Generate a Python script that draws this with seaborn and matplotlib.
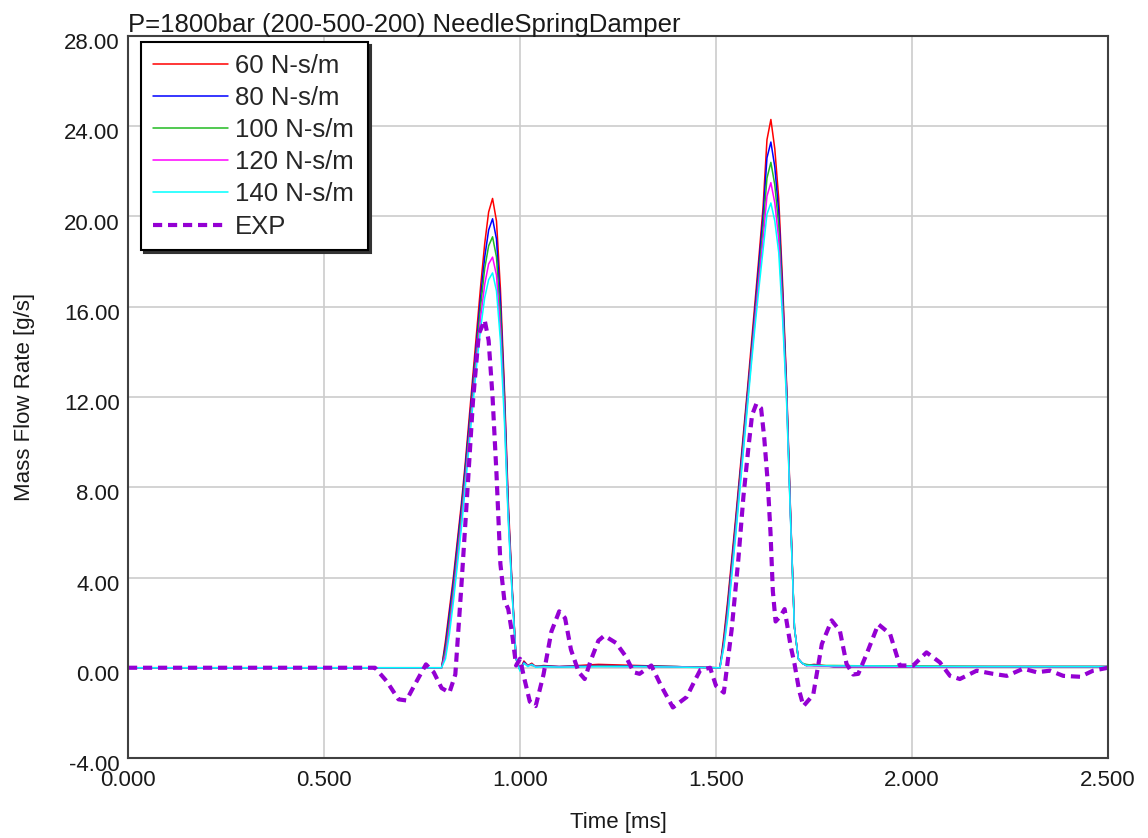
import matplotlib
matplotlib.use("Agg")
import matplotlib.pyplot as plt
import matplotlib.transforms as mtransforms
import numpy as np
import pandas as pd
import seaborn as sns

# ---- data -------------------------------------------------------------
title = "P=1800bar (200-500-200) NeedleSpringDamper"
x_label = "Time [ms]"
y_label = "Mass Flow Rate [g/s]"

x_ticks = [0.0, 0.5, 1.0, 1.5, 2.0, 2.5]
y_ticks = [-4, 0, 4, 8, 12, 16, 20, 24, 28]

# simulation output time base [ms]
t_sim = [0.00, 0.60,
         0.80, 0.81, 0.82, 0.83, 0.84, 0.85, 0.86, 0.87, 0.88, 0.89,
         0.90, 0.91, 0.92, 0.93, 0.94, 0.95, 0.96, 0.97, 0.98, 0.99, 1.00,
         1.01, 1.02, 1.03, 1.04, 1.06, 1.10, 1.20, 1.30, 1.40, 1.50,
         1.51, 1.52, 1.53, 1.54, 1.55, 1.56, 1.57, 1.58, 1.59, 1.60,
         1.61, 1.62, 1.63, 1.64, 1.65, 1.66, 1.67, 1.68, 1.69, 1.70, 1.71, 1.72,
         1.73, 1.75, 1.80, 1.90, 2.00, 2.20, 2.50]

damp_60 = [0.0, 0.0,
           0.0, 1.2, 2.6, 4.0, 5.6, 7.2, 9.0, 11.0, 13.0, 15.0,
           17.0, 18.8, 20.2, 20.8, 19.8, 16.8, 12.5, 7.4, 3.6, 0.4, -0.1,
           0.3, 0.1, 0.2, 0.05, 0.1, 0.05, 0.15, 0.1, 0.05, 0.0,
           0.0, 1.4, 3.0, 4.8, 6.6, 8.5, 10.4, 12.3, 14.3, 16.3,
           18.3, 20.4, 23.4, 24.3, 23.0, 20.8, 17.0, 12.6, 7.0, 1.8, 0.4, 0.2,
           0.1, 0.15, 0.05, 0.05, 0.05, 0.05, 0.05]

damp_80 = [0.0, 0.0,
           0.0, 1.0, 2.4, 3.8, 5.4, 7.0, 8.8, 10.7, 12.7, 14.6,
           16.5, 18.2, 19.4, 19.9, 19.0, 16.2, 12.2, 7.1, 3.5, 0.4, -0.1,
           0.25, 0.1, 0.15, 0.05, 0.08, 0.05, 0.1, 0.08, 0.05, 0.0,
           0.0, 1.2, 2.8, 4.6, 6.4, 8.3, 10.2, 12.1, 14.0, 16.0,
           18.0, 20.0, 22.6, 23.3, 22.2, 20.2, 16.6, 12.4, 6.9, 1.8, 0.4, 0.2,
           0.1, 0.12, 0.05, 0.05, 0.05, 0.05, 0.05]

damp_100 = [0.0, 0.0,
            0.0, 0.8, 2.1, 3.5, 5.1, 6.7, 8.5, 10.4, 12.4, 14.3,
            16.1, 17.7, 18.7, 19.1, 18.2, 15.6, 11.8, 6.9, 3.4, 0.4, -0.1,
            0.2, 0.12, 0.1, 0.08, 0.06, 0.05, 0.08, 0.06, 0.05, 0.0,
            0.0, 1.1, 2.6, 4.4, 6.2, 8.1, 10.0, 11.9, 13.8, 15.7,
            17.6, 19.5, 21.7, 22.4, 21.4, 19.6, 16.2, 12.2, 6.8, 1.8, 0.4, 0.2,
            0.15, 0.1, 0.1, 0.08, 0.08, 0.06, 0.06]

damp_120 = [0.0, 0.0,
            0.0, 0.6, 1.8, 3.2, 4.8, 6.4, 8.2, 10.1, 12.0, 13.9,
            15.6, 17.0, 17.9, 18.2, 17.4, 15.0, 11.4, 6.7, 3.3, 0.4, -0.1,
            0.2, 0.1, 0.12, 0.06, 0.05, 0.05, 0.06, 0.05, 0.04, 0.0,
            0.0, 1.0, 2.4, 4.2, 6.0, 7.9, 9.8, 11.7, 13.6, 15.5,
            17.3, 19.0, 20.9, 21.5, 20.6, 19.0, 15.8, 12.0, 6.7, 1.8, 0.4, 0.2,
            0.1, 0.08, 0.06, 0.05, 0.05, 0.05, 0.05]

damp_140 = [0.0, 0.0,
            0.0, 0.4, 1.5, 2.9, 4.5, 6.1, 7.9, 9.8, 11.7, 13.5,
            15.1, 16.4, 17.2, 17.5, 16.7, 14.5, 11.0, 6.5, 3.2, 0.4, -0.15,
            0.2, 0.05, 0.15, 0.02, 0.05, 0.03, 0.05, 0.05, 0.03, 0.0,
            0.0, 0.9, 2.2, 4.0, 5.8, 7.7, 9.6, 11.5, 13.4, 15.2,
            16.9, 18.5, 20.1, 20.6, 19.8, 18.4, 15.4, 11.8, 6.6, 1.8, 0.4, 0.2,
            0.1, 0.1, 0.08, 0.08, 0.06, 0.05, 0.05]

# measured rate
t_exp = [0.00, 0.60, 0.63, 0.66, 0.69, 0.71, 0.73, 0.76, 0.78, 0.80,
         0.82, 0.835, 0.85, 0.865, 0.88, 0.895, 0.91, 0.92, 0.93, 0.94,
         0.95, 0.96, 0.97, 0.98, 0.99, 1.00, 1.01, 1.025, 1.04, 1.06,
         1.08, 1.10, 1.115, 1.13, 1.15, 1.165, 1.18, 1.20, 1.215, 1.245,
         1.27, 1.29, 1.305, 1.335, 1.36, 1.39, 1.425, 1.445, 1.46, 1.485,
         1.50, 1.52, 1.54, 1.557, 1.57, 1.583, 1.592, 1.603, 1.615, 1.623,
         1.632, 1.639, 1.645, 1.652, 1.665, 1.675, 1.69, 1.70, 1.712, 1.723,
         1.748, 1.77, 1.795, 1.816, 1.833, 1.85, 1.863, 1.884, 1.914, 1.944,
         1.969, 2.003, 2.037, 2.071, 2.097, 2.122, 2.165, 2.207, 2.242, 2.284,
         2.318, 2.352, 2.386, 2.429, 2.462, 2.50]
exp_rate = [0.0, 0.0, 0.0, -0.6, -1.4, -1.45, -0.8, 0.15, -0.2, -0.9,
            -1.1, -0.3, 3.5, 7.6, 11.8, 14.8, 15.4, 14.5, 12.0, 8.6,
            4.6, 3.0, 2.6, 1.5, 0.1, 0.4, -0.4, -1.5, -1.7, -0.3,
            1.6, 2.5, 2.2, 0.8, -0.2, -0.5, 0.3, 1.2, 1.42, 1.1,
            0.5, -0.2, -0.27, 0.1, -0.8, -1.76, -1.3, -0.6, -0.1, 0.0,
            -0.8, -1.1, 1.7, 4.8, 7.6, 9.8, 11.2, 11.7, 11.5, 10.2,
            8.2, 6.0, 3.4, 2.05, 2.3, 2.6, 1.0, 0.2, -1.0, -1.7,
            -1.2, 1.05, 2.1, 1.64, 0.17, -0.3, -0.27, 0.6, 1.93, 1.5,
            0.1, 0.1, 0.68, 0.24, -0.36, -0.5, -0.13, -0.27, -0.36, -0.04,
            -0.2, -0.13, -0.36, -0.4, -0.13, 0.0]

sim_labels = ["60 N-s/m", "80 N-s/m", "100 N-s/m", "120 N-s/m", "140 N-s/m"]
sim_values = [damp_60, damp_80, damp_100, damp_120, damp_140]
sim_colors = ["#ff0000", "#0000ff", "#22bb22", "#ff00ff", "#00ffff"]
exp_label = "EXP"
exp_color = "#9400d3"

# ---- figure -----------------------------------------------------------
sns.set_theme(style="whitegrid")
plt.rcParams["font.family"] = ["Liberation Sans", "DejaVu Sans"]

fig = plt.figure(figsize=(11.48, 8.38), dpi=100)
ax = fig.add_axes([128 / 1148, 1 - 758 / 838, 980 / 1148, 722 / 838])

for label, vals, col in zip(sim_labels, sim_values, sim_colors):
    df = pd.DataFrame({"t": t_sim, "q": vals})
    sns.lineplot(data=df, x="t", y="q", ax=ax, color=col, linewidth=1.1,
                 estimator=None, sort=False, label=label)

df_exp = pd.DataFrame({"t": t_exp, "q": exp_rate})
sns.lineplot(data=df_exp, x="t", y="q", ax=ax, color=exp_color,
             linewidth=3.0, estimator=None, sort=False, label=exp_label)
ax.lines[-1].set_dashes((2.2, 1.4))

ax.set_xlim(0, 2.5)
ax.set_ylim(-4, 28)
ax.set_xticks(x_ticks)
ax.set_yticks(y_ticks)
ax.set_xticklabels([f"{v:.3f}" for v in x_ticks])
ax.set_yticklabels([f"{v:.2f}" for v in y_ticks])
ax.tick_params(axis="both", length=0, labelsize=16, colors="#1a1a1a")
ax.tick_params(axis="x", pad=8.5)
ax.tick_params(axis="y", pad=6)

shift = mtransforms.ScaledTranslation(0, -0.05, fig.dpi_scale_trans)
for lab in ax.get_yticklabels():
    lab.set_transform(lab.get_transform() + shift)

ax.set_xlabel(x_label, fontsize=16, labelpad=15.5, color="#1a1a1a")
ax.set_ylabel(y_label, fontsize=16, labelpad=21, color="#1a1a1a")
ax.set_title(title, loc="left", fontsize=18.5, pad=3, color="#1a1a1a")

ax.grid(True, color="#cccccc", linewidth=1.2)
ax.set_axisbelow(True)
for sp in ax.spines.values():
    sp.set_visible(True)
    sp.set_color("#404040")
    sp.set_linewidth(1.5)

leg = ax.legend(loc="upper left",
                bbox_to_anchor=(13 / 980, 0.4, 227 / 980, 1 - 6 / 722 - 0.4),
                mode="expand", borderaxespad=0, fontsize=18.5,
                handlelength=2.95, handletextpad=0.25, labelspacing=0.32,
                borderpad=0.45, fancybox=False, framealpha=1,
                shadow={"color": "0.2", "alpha": 1})
leg.get_frame().set_edgecolor("black")
leg.get_frame().set_linewidth(1.5)
for h in leg.get_lines():
    if h.get_label() == exp_label:
        h.set_dashes((2.2, 1.4))

fig.savefig("out.png", dpi=100)
